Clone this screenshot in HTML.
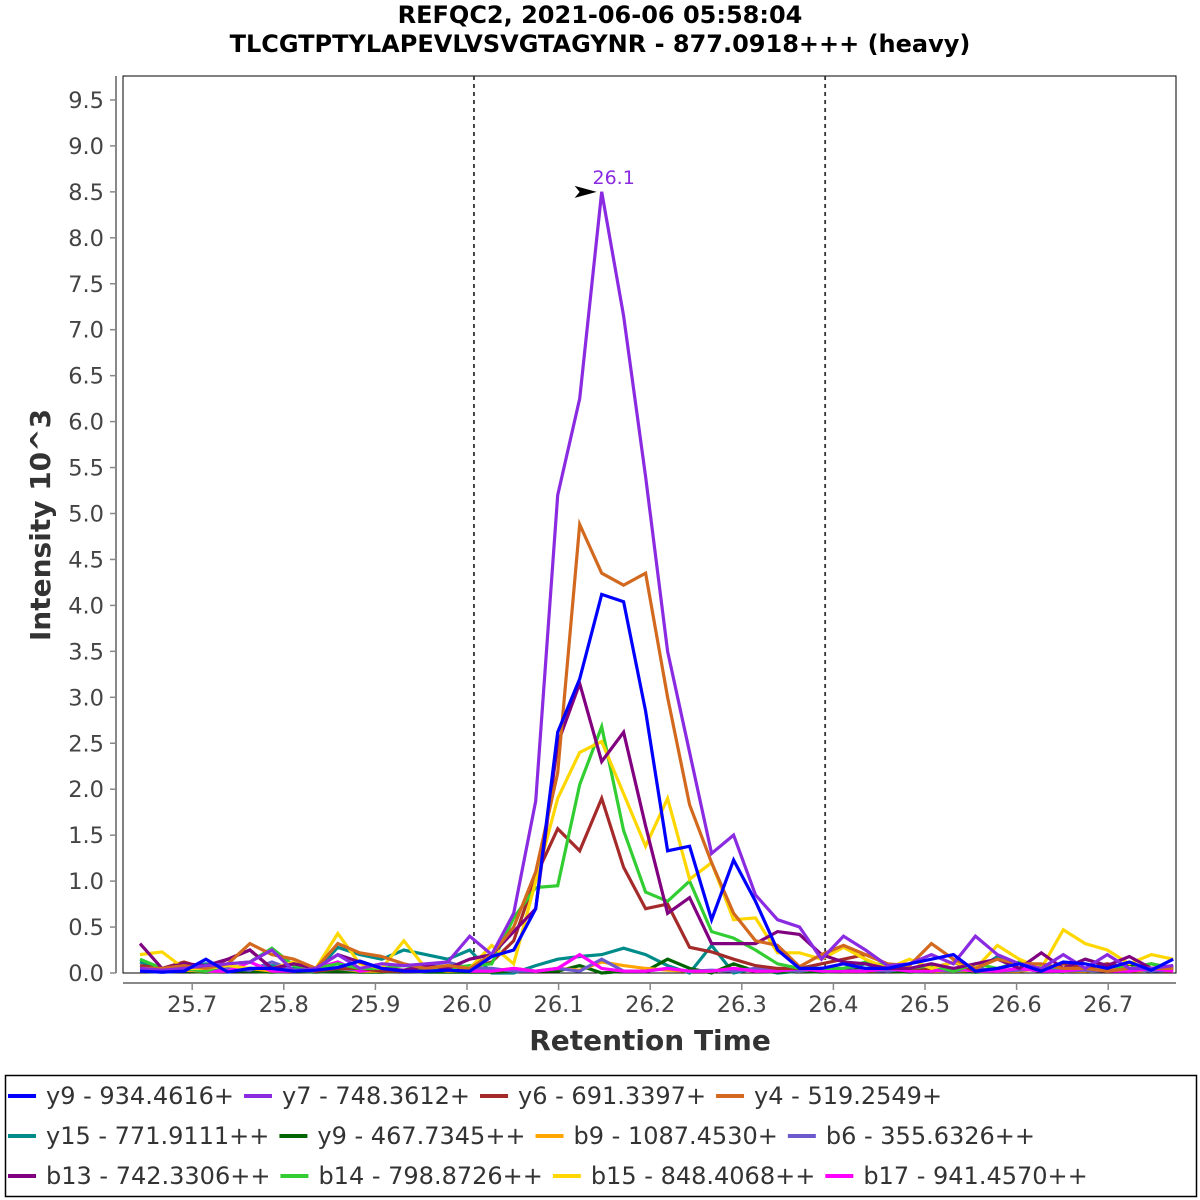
<!DOCTYPE html>
<html><head><meta charset="utf-8"><style>
body{margin:0;background:#fff;width:1200px;height:1200px;overflow:hidden;font-family:"Liberation Sans","DejaVu Sans",sans-serif}
svg{position:absolute;left:0;top:0}
</style></head><body>
<svg id="chart" width="1200" height="1200" xmlns="http://www.w3.org/2000/svg" font-family="DejaVu Sans, Liberation Sans, sans-serif">
<text x="600" y="23" text-anchor="middle" font-size="24" font-weight="bold" fill="#000">REFQC2, 2021-06-06 05:58:04</text>
<text x="600" y="52" text-anchor="middle" font-size="24" font-weight="bold" fill="#000">TLCGTPTYLAPEVLVSVGTAGYNR - 877.0918+++ (heavy)</text>
<rect x="123" y="76" width="1053" height="897" fill="#fff" stroke="#000" stroke-width="1"/>
<g id="yaxis"></g>
<g id="xaxis"></g>
<g id="series"></g>
<text transform="translate(50,525) rotate(-90)" text-anchor="middle" font-size="28" font-weight="bold" fill="#333">Intensity 10^3</text>
<text x="650" y="1050" text-anchor="middle" font-size="28" font-weight="bold" fill="#333">Retention Time</text>
<rect x="5.5" y="1075.5" width="1191" height="121" fill="none" stroke="#000" stroke-width="1.5"/>
<g id="legend"></g>
</svg>
<script>
const t0 = 25.643, step = 0.024;
const yTicks = ["0.0","0.5","1.0","1.5","2.0","2.5","3.0","3.5","4.0","4.5","5.0","5.5","6.0","6.5","7.0","7.5","8.0","8.5","9.0","9.5"];
const xTicks = ["25.7","25.8","25.9","26.0","26.1","26.2","26.3","26.4","26.5","26.6","26.7"];
const boundaries = [26.0076, 26.391];
const seriesNames = ["y9 - 934.4616+","y7 - 748.3612+","y6 - 691.3397+","y4 - 519.2549+","y15 - 771.9111++","y9 - 467.7345++","b9 - 1087.4530+","b6 - 355.6326++","b13 - 742.3306++","b14 - 798.8726++","b15 - 848.4068++","b17 - 941.4570++"];
const seriesColors = ["#0000ff","#8a2be2","#a52a2a","#d2691e","#008b8b","#006400","#ffa500","#6a5acd","#800080","#32cd32","#ffd700","#ff00ff"];
const sY9   = [0.02,0.01,0.02,0.15,0.01,0.05,0.05,0.02,0.03,0.06,0.13,0.05,0.02,0.02,0.03,0.02,0.18,0.25,0.7,2.62,3.2,4.12,4.04,2.85,1.33,1.38,0.58,1.23,0.78,0.25,0.05,0.05,0.1,0.05,0.05,0.1,0.15,0.2,0.02,0.05,0.1,0.02,0.12,0.1,0.05,0.12,0.03,0.15];
const sY7   = [0.05,0.03,0.05,0.08,0.1,0.12,0.25,0.02,0.05,0.2,0.05,0.1,0.08,0.1,0.12,0.4,0.2,0.65,1.87,5.2,6.25,8.5,7.15,5.4,3.5,2.4,1.3,1.5,0.85,0.58,0.5,0.15,0.4,0.25,0.08,0.1,0.2,0.1,0.4,0.2,0.1,0.05,0.2,0.05,0.2,0.05,0.05,0.08];
const sY6   = [0.08,0.05,0.12,0.05,0.15,0.25,0.05,0.1,0.02,0.05,0.05,0.02,0.02,0.05,0.05,0.05,0.12,0.35,1.05,1.57,1.33,1.9,1.15,0.7,0.75,0.28,0.23,0.15,0.08,0.05,0.05,0.1,0.15,0.2,0.1,0.05,0.05,0.12,0.02,0.05,0.1,0.05,0.1,0.05,0.1,0.05,0.1,0.05];
const sY4   = [0.05,0.05,0.08,0.05,0.1,0.32,0.2,0.15,0.05,0.32,0.22,0.18,0.1,0.05,0.08,0.05,0.2,0.5,1.1,2.18,4.88,4.35,4.22,4.35,3.0,1.83,1.2,0.65,0.35,0.3,0.07,0.2,0.3,0.2,0.1,0.08,0.32,0.15,0.05,0.15,0.1,0.1,0.05,0.05,0.02,0.05,0.05,0.05];
const sY15  = [0.12,0.05,0.05,0.1,0.05,0.02,0.08,0.05,0.02,0.28,0.2,0.15,0.25,0.2,0.15,0.25,0.0,0.0,0.08,0.15,0.18,0.2,0.27,0.2,0.08,0.0,0.3,0.0,0.05,0.0,0.02,0.02,0.05,0.1,0.02,0.05,0.08,0.02,0.02,0.18,0.05,0.02,0.05,0.05,0.02,0.05,0.02,0.05];
const sY9b  = [0.02,0.01,0.02,0.01,0.02,0.02,0.01,0.02,0.01,0.02,0.01,0.01,0.02,0.01,0.01,0.01,0.01,0.02,0.02,0.02,0.08,0.0,0.02,0.02,0.15,0.05,0.0,0.1,0.02,0.01,0.02,0.01,0.02,0.05,0.02,0.01,0.02,0.02,0.01,0.02,0.05,0.02,0.01,0.05,0.02,0.1,0.02,0.05];
const sB9   = [0.02,0.02,0.03,0.02,0.02,0.05,0.02,0.03,0.02,0.05,0.02,0.02,0.03,0.05,0.02,0.03,0.02,0.05,0.02,0.05,0.03,0.12,0.08,0.05,0.03,0.02,0.02,0.05,0.02,0.03,0.02,0.05,0.02,0.02,0.03,0.05,0.02,0.02,0.03,0.02,0.02,0.05,0.02,0.02,0.05,0.02,0.03,0.02];
const sB6   = [0.02,0.03,0.05,0.02,0.05,0.03,0.12,0.03,0.02,0.05,0.03,0.05,0.02,0.08,0.12,0.05,0.05,0.02,0.02,0.05,0.02,0.15,0.02,0.02,0.05,0.02,0.03,0.02,0.05,0.03,0.02,0.05,0.02,0.03,0.02,0.05,0.03,0.02,0.05,0.02,0.03,0.05,0.02,0.03,0.02,0.05,0.02,0.03];
const sB13  = [0.32,0.05,0.1,0.08,0.15,0.25,0.05,0.1,0.05,0.2,0.12,0.05,0.03,0.08,0.05,0.15,0.2,0.45,0.7,2.5,3.15,2.3,2.62,1.6,0.65,0.82,0.32,0.32,0.32,0.45,0.42,0.2,0.12,0.1,0.05,0.05,0.1,0.05,0.1,0.15,0.05,0.22,0.05,0.15,0.08,0.18,0.05,0.08];
const sB14  = [0.15,0.05,0.05,0.02,0.1,0.12,0.27,0.08,0.05,0.1,0.05,0.05,0.08,0.05,0.05,0.08,0.1,0.6,0.93,0.95,2.05,2.68,1.55,0.88,0.78,1.0,0.45,0.38,0.25,0.1,0.05,0.05,0.05,0.12,0.08,0.05,0.08,0.02,0.1,0.05,0.12,0.08,0.05,0.15,0.08,0.05,0.1,0.05];
const sB15  = [0.2,0.23,0.05,0.05,0.08,0.05,0.05,0.12,0.05,0.43,0.1,0.05,0.35,0.05,0.08,0.05,0.3,0.1,1.0,1.9,2.4,2.52,1.95,1.38,1.9,1.02,1.2,0.58,0.6,0.22,0.22,0.15,0.28,0.15,0.05,0.15,0.05,0.12,0.05,0.3,0.15,0.05,0.47,0.32,0.25,0.1,0.2,0.15];
const sB17  = [0.02,0.02,0.05,0.02,0.02,0.12,0.02,0.02,0.05,0.12,0.02,0.05,0.02,0.02,0.05,0.02,0.02,0.05,0.02,0.05,0.2,0.05,0.02,0.02,0.05,0.02,0.02,0.05,0.02,0.02,0.05,0.02,0.02,0.02,0.05,0.02,0.02,0.05,0.02,0.02,0.05,0.02,0.02,0.05,0.02,0.02,0.05,0.02];
const seriesValues = [sY9,sY7,sY6,sY4,sY15,sY9b,sB9,sB6,sB13,sB14,sB15,sB17];
const peakLabel = "26.1";

const NS="http://www.w3.org/2000/svg";
const Y0=973;
function xScale(t){return 467+(t-26.0)*916;}
function yScale(v){return Y0-v*91.9;}
function mk(tag,attrs,parent){const e=document.createElementNS(NS,tag);for(const k in attrs)e.setAttribute(k,attrs[k]);parent.appendChild(e);return e;}

const ya=document.getElementById('yaxis');
mk('line',{x1:116,y1:76,x2:116,y2:973,stroke:'#888','stroke-width':2},ya);
yTicks.forEach(l=>{const v=parseFloat(l),y=yScale(v);
 mk('line',{x1:110,y1:y,x2:116,y2:y,stroke:'#888','stroke-width':1.5},ya);
 const t=mk('text',{x:104,y:y+8,'text-anchor':'end','font-size':22.5,fill:'#444'},ya);t.textContent=l;
 
 });
const xa=document.getElementById('xaxis');
mk('line',{x1:123,y1:983,x2:1176,y2:983,stroke:'#888','stroke-width':2},xa);
xTicks.forEach(l=>{const x=xScale(parseFloat(l));
 mk('line',{x1:x,y1:983,x2:x,y2:990,stroke:'#888','stroke-width':1.5},xa);
 const t=mk('text',{x:x,y:1012,'text-anchor':'middle','font-size':22.5,fill:'#444'},xa);t.textContent=l;
 
 });
const sg=document.getElementById('series');
boundaries.forEach(b=>{const x=xScale(b);
 const l=mk('line',{x1:x,y1:76,x2:x,y2:973,stroke:'#333','stroke-width':1.8,'stroke-dasharray':'4,4'},sg);
 
 });
const ordered=[4,5,6,7,11,2,9,10,8,3,1,0];
ordered.forEach(i=>{const vals=seriesValues[i];
 const pts=vals.map((v,k)=>xScale(t0+k*step).toFixed(1)+','+yScale(v).toFixed(1)).join(' ');
 const p=mk('polyline',{points:pts,fill:'none',stroke:seriesColors[i],'stroke-width':3.2,'stroke-linejoin':'miter'},sg);
 
 });
const pk=sY7.indexOf(Math.max(...sY7));const px=xScale(t0+pk*step),py=yScale(sY7[pk]);
const arr=mk('polygon',{points:`${px-5},${py} ${px-27},${py-6} ${px-22},${py} ${px-27},${py+6}`,fill:'#000'},sg);


const pl=mk('text',{x:px+12,y:py-8,'text-anchor':'middle','font-size':19,fill:'#8a2be2'},sg);pl.textContent=peakLabel;


const lg=document.getElementById('legend');
const rows=[[0,1,2,3],[4,5,6,7],[8,9,10,11]];
rows.forEach((r,ri)=>{let x=8;const y=1096+ri*40;
 r.forEach(i=>{
  const g=mk('g',{},lg);
  
  
  mk('line',{x1:x,y1:y,x2:x+28,y2:y,stroke:seriesColors[i],'stroke-width':4},g);
  const t=mk('text',{x:x+38,y:y+8,'font-size':24,fill:'#333'},g);t.textContent=seriesNames[i];
  x+=38+t.getComputedTextLength()+10;});});
</script>
</body></html>
